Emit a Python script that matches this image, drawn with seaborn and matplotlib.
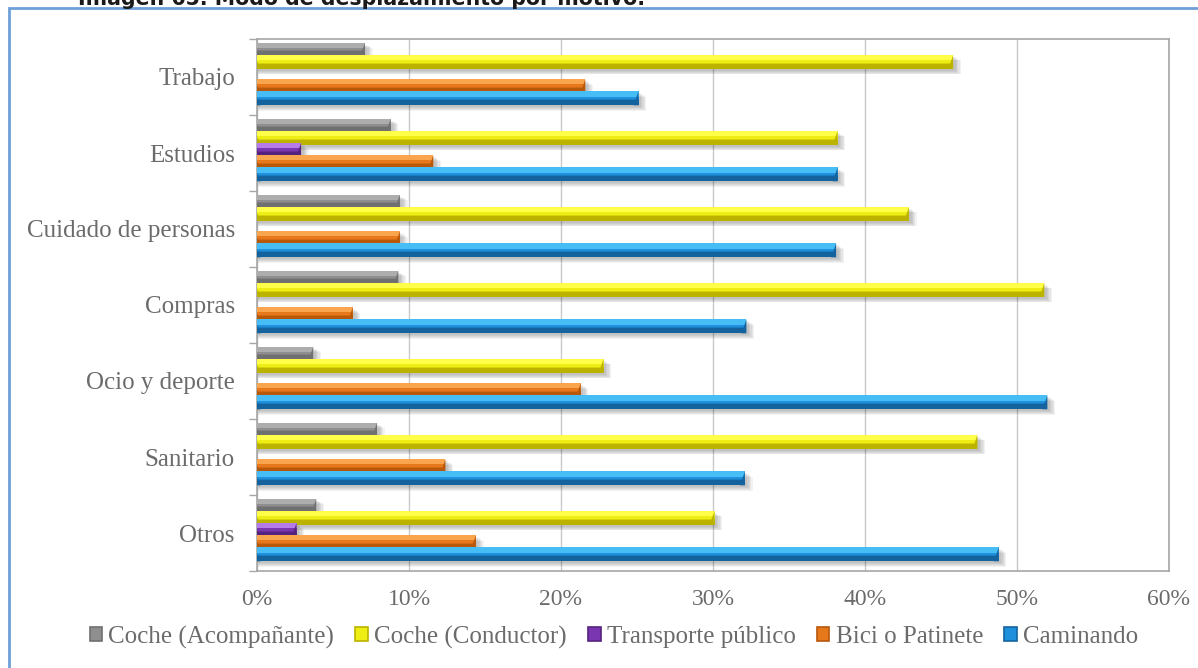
import numpy as np
import pandas as pd
import matplotlib
matplotlib.use("Agg")
import matplotlib.pyplot as plt
from matplotlib.patches import Rectangle, Polygon, Patch
from matplotlib.ticker import PercentFormatter, FixedLocator, MultipleLocator
import seaborn as sns

# ---- data (percent of trips by purpose) ----
motivos = ["Trabajo", "Estudios", "Cuidado de personas", "Compras",
           "Ocio y deporte", "Sanitario", "Otros"]
modos = ["Coche (Acompañante)", "Coche (Conductor)", "Transporte público",
         "Bici o Patinete", "Caminando"]

coche_acompanante = [7.1, 8.8, 9.4, 9.3, 3.7, 7.9, 3.9]
coche_conductor = [45.8, 38.2, 42.9, 51.8, 22.8, 47.4, 30.1]
transporte_publico = [0.0, 2.9, 0.0, 0.0, 0.0, 0.0, 2.6]
bici_patinete = [21.6, 11.6, 9.4, 6.3, 21.3, 12.4, 14.4]
caminando = [25.1, 38.2, 38.1, 32.2, 52.0, 32.1, 48.8]

series = [coche_acompanante, coche_conductor, transporte_publico,
          bici_patinete, caminando]

df = pd.DataFrame({
    "motivo": np.repeat(motivos, len(modos)),
    "modo": modos * len(motivos),
    "valor": [series[j][i] for i in range(len(motivos)) for j in range(len(modos))],
})

# base / highlight / shade tones for each mode
base = {"Coche (Acompañante)": "#8f8f8f", "Coche (Conductor)": "#eeee14",
        "Transporte público": "#7a36b0", "Bici o Patinete": "#e8781c",
        "Caminando": "#1f90dc"}
light = {"Coche (Acompañante)": "#adadad", "Coche (Conductor)": "#ffff4a",
         "Transporte público": "#b57be8", "Bici o Patinete": "#f9a54e",
         "Caminando": "#47bdf6"}
dark = {"Coche (Acompañante)": "#707070", "Coche (Conductor)": "#bbb300",
        "Transporte público": "#55237f", "Bici o Patinete": "#b8580a",
        "Caminando": "#14639f"}

sns.set_style("white")
plt.rcParams["font.family"] = ["Liberation Serif", "DejaVu Serif"]

W, H = 1198, 668
fig = plt.figure(figsize=(W / 100, H / 100), dpi=100)
ax_l, ax_r, ax_t, ax_b = 257, 1169, 39, 571
ax = fig.add_axes([ax_l / W, 1 - ax_b / H, (ax_r - ax_l) / W, (ax_b - ax_t) / H])

sns.barplot(data=df, x="valor", y="motivo", hue="modo", order=motivos,
            hue_order=modos, palette=base, saturation=1, orient="h",
            width=0.8, legend=False, ax=ax, zorder=3, linewidth=0)

ax.set_xlim(0, 60)
ax.set_ylim(len(motivos) - 0.5, -0.5)

px_x = 60 / (ax_r - ax_l)
px_y = len(motivos) / (ax_b - ax_t)

rgba_of = {m: matplotlib.colors.to_rgba(base[m]) for m in modos}

# 3D-style shading, bevelled ends and soft drop shadows
bar_h = 14 * px_y
lift = 3 * px_y
bars = list(ax.patches)
for idx, p in enumerate(bars):
    w = p.get_width()
    fc = p.get_facecolor()
    modo = min(modos, key=lambda m: np.abs(np.array(rgba_of[m]) - np.array(fc)).sum())
    yc = p.get_y() + p.get_height() / 2 - lift
    p.set_y(yc - bar_h / 2)
    p.set_height(bar_h)
    if w <= 0:
        continue
    x0, y0, h = p.get_x(), p.get_y(), p.get_height()
    z = 3 + 0.01 * idx
    for k in range(5):
        ax.add_patch(Rectangle((x0 + px_x, y0 + (2.0 + 0.9 * k) * px_y),
                               w + (1.5 + 1.3 * k) * px_x, h,
                               facecolor="black", alpha=0.05, lw=0, zorder=2.5))
    p.set_zorder(z)
    ax.add_patch(Rectangle((x0, y0), w, h * 0.38, facecolor=light[modo],
                           lw=0, zorder=z + 0.001))
    ax.add_patch(Rectangle((x0, y0 + h * 0.12), w, h * 0.12,
                           facecolor=light[modo], alpha=0.6, lw=0, zorder=z + 0.002))
    ax.add_patch(Rectangle((x0, y0 + h * 0.62), w, h * 0.38, facecolor=dark[modo],
                           lw=0, zorder=z + 0.001))
    ax.add_patch(Rectangle((x0, y0 + h * 0.55), w, h * 0.12, facecolor=dark[modo],
                           alpha=0.45, lw=0, zorder=z + 0.002))
    ax.add_patch(Polygon([(x0 + w - 5 * px_x, y0 + h), (x0 + w, y0),
                          (x0 + w, y0 + h)], closed=True, facecolor=dark[modo],
                         alpha=0.95, lw=0, zorder=z + 0.003))
    ax.add_patch(Polygon([(x0, y0 + h * 0.45), (x0 + 4 * px_x, y0 + h),
                          (x0, y0 + h)], closed=True, facecolor=dark[modo],
                         alpha=0.9, lw=0, zorder=z + 0.003))

# axes styling
ax.xaxis.set_major_locator(MultipleLocator(10))
ax.xaxis.set_major_formatter(PercentFormatter(100, decimals=0))
ax.grid(axis="x", color="#c9c9c9", lw=1.0, zorder=0)
ax.grid(axis="y", visible=False)
ax.set_axisbelow(True)
for s in ax.spines.values():
    s.set_color("#a6a6a6")
    s.set_linewidth(1.2)
    s.set_visible(True)

ax.set_xlabel("")
ax.set_ylabel("")
ax.tick_params(axis="x", which="major", direction="out", length=6, width=1,
               color="#a6a6a6", labelsize=17, labelcolor="#6b6b6b", pad=7)
ax.tick_params(axis="y", which="major", length=0, labelsize=18,
               labelcolor="#6b6b6b", pad=16)
ax.yaxis.set_minor_locator(FixedLocator(np.arange(len(motivos) + 1) - 0.5))
ax.tick_params(axis="y", which="minor", direction="out", length=6, width=1,
               color="#a6a6a6", left=True)

# legend
handles = [Patch(facecolor=base[m], edgecolor=dark[m], lw=1.2, label=m) for m in modos]
leg = fig.legend(handles=handles, loc="center", ncol=5,
                 bbox_to_anchor=(614 / W, 1 - 637 / H), frameon=False,
                 fontsize=18, handlelength=0.5, handleheight=0.5,
                 handletextpad=0.25, columnspacing=0.85, borderaxespad=0)
for t in leg.get_texts():
    t.set_color("#6b6b6b")

# caption line (partly outside the canvas) and the surrounding frame
fig.text(78 / W, 1 - 5 / H, "Imagen 65. Modo de desplazamiento por motivo.",
         family="DejaVu Sans", fontsize=14.8, color="#1a1a1a", va="baseline",
         ha="left", weight="semibold")
fig.add_artist(Rectangle((9 / W, -0.05), 1.2, 1.05 - 8 / H,
                         transform=fig.transFigure, fill=False,
                         edgecolor="#6f9fd8", lw=2))

fig.savefig("out.png", dpi=100)
